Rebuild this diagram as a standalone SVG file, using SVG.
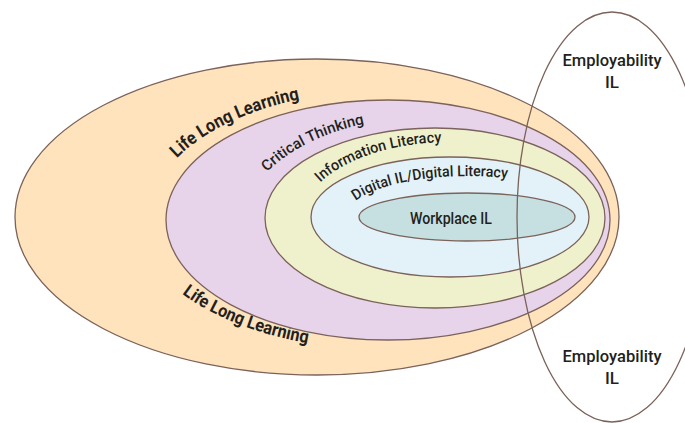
<svg xmlns="http://www.w3.org/2000/svg" width="685" height="423" viewBox="0 0 685 423">
<style>
.e{stroke:#7b625a;stroke-width:1.3}
.t{font-family:Roboto,"Liberation Sans",Arial,sans-serif;fill:#231f20;font-weight:500}
.b{font-weight:bold}
.c{text-anchor:middle;font-size:17px}
</style>
<defs>
<path id="pTop" d="M148,220 A240,130 0 0,1 628,220"/>
<path id="pBot" d="M138,220 A250,130 0 0,0 638,220"/>
<path id="pCT" d="M245,222 A185,105 0 0,1 615,222"/>
<path id="pIL" d="M302,220 A148,78 0 0,1 598,220"/>
<path id="pDL" d="M345,218 A122,42 0 0,1 589,218"/>
</defs>
<rect width="685" height="423" fill="#fff"/>
<g id="lifelong">
<ellipse class="e" cx="317" cy="217" rx="302" ry="158" fill="#fee3bd"/>
<text class="t b" font-size="18"><textPath href="#pTop" startOffset="70" textLength="138" lengthAdjust="spacingAndGlyphs">Life Long Learning</textPath></text>
<text class="t b" font-size="18"><textPath href="#pBot" startOffset="89" textLength="136" lengthAdjust="spacingAndGlyphs">Life Long Learning</textPath></text>
</g>
<g id="critical">
<ellipse class="e" cx="388" cy="220" rx="222" ry="120" fill="#e7d4ea"/>
<text class="t" font-size="15"><textPath href="#pCT" startOffset="56" textLength="110" lengthAdjust="spacingAndGlyphs">Critical Thinking</textPath></text>
</g>
<g id="infolit">
<ellipse class="e" cx="435" cy="218" rx="170" ry="90" fill="#eff1cd"/>
<text class="t" font-size="15"><textPath href="#pIL" startOffset="43" textLength="130" lengthAdjust="spacingAndGlyphs">Information Literacy</textPath></text>
</g>
<g id="digital">
<ellipse class="e" cx="450" cy="217" rx="139" ry="60" fill="#e3f2f8"/>
<text class="t" font-size="15"><textPath href="#pDL" startOffset="21" textLength="156" lengthAdjust="spacingAndGlyphs">Digital IL/Digital Literacy</textPath></text>
</g>
<g id="workplace">
<ellipse class="e" cx="467" cy="217" rx="108" ry="24" fill="#c6e0e1"/>
<text class="t" x="451" y="224" font-size="16" text-anchor="middle" textLength="82" lengthAdjust="spacingAndGlyphs">Workplace IL</text>
</g>
<g id="employability">
<ellipse class="e" cx="612" cy="217" rx="95" ry="205" fill="none"/>
<text class="t c" x="612" y="66" textLength="99" lengthAdjust="spacingAndGlyphs">Employability</text>
<text class="t c" x="612" y="88">IL</text>
<text class="t c" x="612" y="362" textLength="99" lengthAdjust="spacingAndGlyphs">Employability</text>
<text class="t c" x="612" y="384">IL</text>
</g>
</svg>
